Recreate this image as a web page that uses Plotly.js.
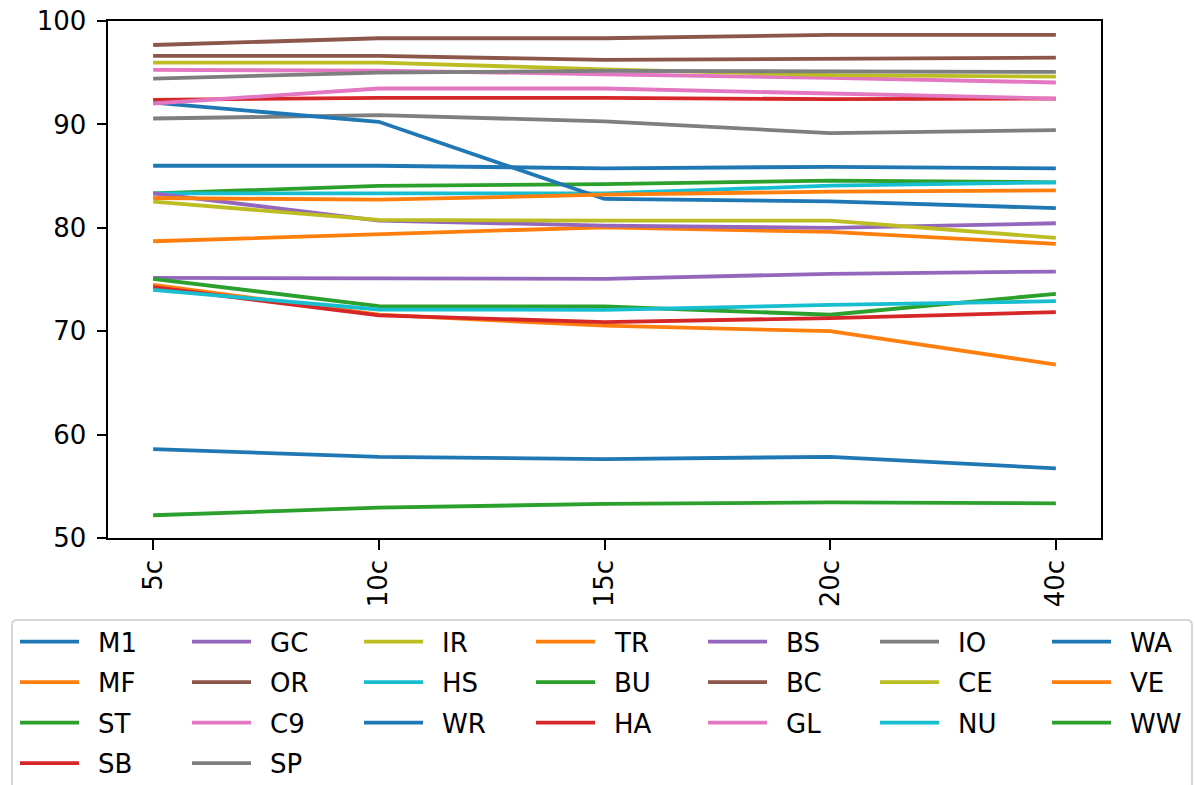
<!DOCTYPE html>
<html>
<head>
<meta charset="utf-8">
<script src="https://cdn.plot.ly/plotly-3.0.1.min.js"></script>
<style>html,body{margin:0;padding:0;background:#fff;}#chart{width:1195px;height:785px;}</style>
</head>
<body>
<div id="chart"></div>
<script>
// ---- data ----
const categories = ["5c", "10c", "15c", "20c", "40c"];
const seriesNames = ["M1","MF","ST","SB","GC","OR","C9","SP","IR","HS","WR","TR","BU","HA","BS","BC","GL","IO","CE","NU","WA","VE","WW"];
const M1 = [86.0, 86.0, 85.75, 85.9, 85.75];
const MF = [78.7, 79.35, 80.05, 79.6, 78.45];
const ST = [83.33, 84.05, 84.23, 84.56, 84.4];
const SB = [92.37, 92.57, 92.57, 92.44, 92.5];
const GC = [75.16, 75.16, 75.07, 75.55, 75.77];
const OR = [97.68, 98.33, 98.33, 98.65, 98.65];
const C9 = [95.27, 95.2, 94.85, 94.5, 94.05];
const SP = [90.57, 90.89, 90.3, 89.16, 89.45];
const IR = [95.98, 95.98, 95.33, 94.76, 94.63];
const HS = [83.33, 83.33, 83.33, 84.07, 84.4];
const WR = [92.1, 90.25, 82.79, 82.56, 81.9];
const TR = [74.49, 71.6, 70.53, 70.0, 66.77];
const BU = [75.07, 72.42, 72.39, 71.59, 73.62];
const HA = [74.26, 71.53, 70.88, 71.27, 71.85];
const BS = [83.33, 80.7, 80.21, 79.99, 80.44];
const BC = [96.62, 96.62, 96.24, 96.36, 96.46];
const GL = [92.02, 93.47, 93.47, 92.98, 92.5];
const IO = [94.43, 95.01, 95.17, 95.08, 95.08];
const CE = [82.53, 80.76, 80.7, 80.7, 79.02];
const NU = [74.0, 72.1, 72.07, 72.55, 72.9];
const WA = [58.6, 57.85, 57.63, 57.85, 56.73];
const VE = [82.88, 82.72, 83.2, 83.5, 83.62];
const WW = [52.2, 52.93, 53.3, 53.44, 53.35];
const seriesValues = [M1,MF,ST,SB,GC,OR,C9,SP,IR,HS,WR,TR,BU,HA,BS,BC,GL,IO,CE,NU,WA,VE,WW];
const yTicks = [50, 60, 70, 80, 90, 100];

// ---- style ----
const palette = ["#1f77b4","#ff7f0e","#2ca02c","#d62728","#9467bd","#8c564b","#e377c2","#7f7f7f","#bcbd22","#17becf"];
const FONT = "DejaVu Sans, sans-serif";
const FS = 26;
const LW = 3.8;
const W = 1195, H = 785;
const M = {l: 108, r: 94, t: 21, b: 247};
const plotW = W - M.l - M.r, plotH = H - M.t - M.b;
const px = v => (v - M.l) / plotW;
const py = v => (H - M.b - v) / plotH;

const traces = seriesNames.map((name, i) => ({
  type: "scatter", mode: "lines", name: name,
  x: categories, y: seriesValues[i],
  line: {color: palette[i % 10], width: LW},
  showlegend: false, hoverinfo: "x+y+name"
}));

// ---- legend (matplotlib-like, column-major, 7 columns) ----
const shapes = [];
const annotations = [];
const ncol = 7;
const n = seriesNames.length;
const base = Math.floor(n / ncol), extra = n % ncol;
const colStart = 20, colStep = 172, handleLen = 59, textOff = 76;
const rowStart = 641.7, rowStep = 40.5;
// frame
const fx0 = 12, fx1 = 1192, fy0 = 620, fy1 = 820, rr = 5;
shapes.push({
  type: "path", xref: "paper", yref: "paper", layer: "below",
  path: `M ${px(fx0)} ${py(fy1)} L ${px(fx0)} ${py(fy0 + rr)} Q ${px(fx0)} ${py(fy0)} ${px(fx0 + rr)} ${py(fy0)} L ${px(fx1 - rr)} ${py(fy0)} Q ${px(fx1)} ${py(fy0)} ${px(fx1)} ${py(fy0 + rr)} L ${px(fx1)} ${py(fy1)}`,
  line: {color: "#d6d6d6", width: 2}, fillcolor: "rgba(255,255,255,0.8)"
});
let idx = 0;
for (let c = 0; c < ncol; c++) {
  const rows = base + (c < extra ? 1 : 0);
  for (let r = 0; r < rows; r++, idx++) {
    const x0 = colStart + c * colStep;
    const y0 = rowStart + r * rowStep;
    shapes.push({
      type: "line", xref: "paper", yref: "paper",
      x0: px(x0), x1: px(x0 + handleLen), y0: py(y0), y1: py(y0),
      line: {color: palette[idx % 10], width: LW}
    });
    annotations.push({
      xref: "paper", yref: "paper", x: px(x0 + textOff), y: py(y0 + 1),
      xanchor: "left", yanchor: "middle", showarrow: false,
      text: seriesNames[idx], font: {family: FONT, size: FS, color: "#000"}
    });
  }
}

const layout = {
  width: W, height: H,
  margin: {l: M.l, r: M.r, t: M.t, b: M.b, pad: 0, autoexpand: false},
  paper_bgcolor: "#fff", plot_bgcolor: "#fff",
  showlegend: false,
  font: {family: FONT, size: FS, color: "#000"},
  xaxis: {
    type: "category", range: [-0.2, 4.2], tickvals: categories, ticktext: categories,
    tickangle: -90, ticks: "outside", ticklen: 9.5, tickwidth: 2, tickcolor: "#000",
    showline: true, linecolor: "#000", linewidth: 2, mirror: true,
    showgrid: false, zeroline: false, tickfont: {family: FONT, size: FS, color: "#000"},
    automargin: false
  },
  yaxis: {
    range: [50, 100], tickvals: yTicks, ticktext: yTicks.map(String),
    ticks: "outside", ticklen: 9.5, tickwidth: 2, tickcolor: "#000",
    ticklabelstandoff: 5,
    showline: true, linecolor: "#000", linewidth: 2, mirror: true,
    showgrid: false, zeroline: false, tickfont: {family: FONT, size: FS, color: "#000"},
    automargin: false
  },
  shapes: shapes,
  annotations: annotations
};

Plotly.newPlot("chart", traces, layout, {displayModeBar: false, staticPlot: true});
</script>
</body>
</html>
